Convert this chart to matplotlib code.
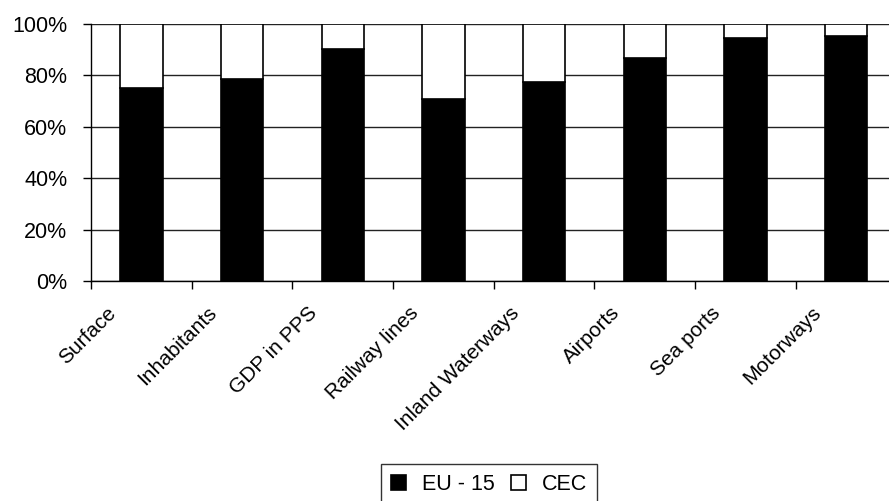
import matplotlib.pyplot as plt
import matplotlib.transforms as mtransforms
import numpy as np

plt.rcParams['font.family'] = ['Liberation Sans', 'DejaVu Sans']

categories = ["Surface", "Inhabitants", "GDP in PPS", "Railway lines",
              "Inland Waterways", "Airports", "Sea ports", "Motorways"]
eu15 = [75.0, 78.6, 90.0, 70.6, 77.2, 86.8, 94.3, 95.1]
cec = [100 - v for v in eu15]

fig = plt.figure(figsize=(8.89, 5.01), dpi=100)
ax = fig.add_axes([0.1024, 0.4391, 0.906, 0.5136])

x = np.arange(len(categories))
w = 0.42
ax.bar(x, eu15, w, color="black", edgecolor="black", linewidth=1.2, label="EU - 15", zorder=3)
ax.bar(x, cec, w, bottom=eu15, color="white", edgecolor="black", linewidth=1.2, label="CEC", zorder=3)

ax.set_xlim(-0.5, len(categories) - 0.5)
ax.set_ylim(0, 100)
ax.set_yticks(np.arange(0, 101, 20))
ax.set_yticklabels([f"{v}%" for v in range(0, 101, 20)], fontsize=15.5)
ax.yaxis.grid(True, color="#222222", linewidth=1.0, zorder=0)
ax.set_axisbelow(True)

# category dividers as ticks, labels drawn separately
ax.set_xticks(np.arange(-0.5, len(categories) + 0.5, 1))
ax.set_xticklabels([])
ax.tick_params(axis="x", direction="out", length=6, width=1, color="black")
ax.tick_params(axis="y", direction="out", length=6, width=1, pad=11, color="black")

for s in ["top", "right"]:
    ax.spines[s].set_visible(False)
for s in ["left", "bottom"]:
    ax.spines[s].set_color("black")
    ax.spines[s].set_linewidth(1.0)

offset = mtransforms.ScaledTranslation(-28 / 100, -29 / 100, fig.dpi_scale_trans)
trans = mtransforms.blended_transform_factory(ax.transData, ax.transAxes) + offset
for i, name in enumerate(categories):
    ax.text(i, 0, name, transform=trans, rotation=45, rotation_mode="anchor",
            ha="right", va="center", fontsize=15)

leg = fig.legend(loc="upper center", bbox_to_anchor=(489 / 889, 1 - 464 / 501), ncol=2,
                 fontsize=15.5, frameon=True, fancybox=False, edgecolor="black",
                 handlelength=0.7, handleheight=0.7, handletextpad=0.75, columnspacing=0.75,
                 borderpad=0.45, borderaxespad=0)
leg.get_frame().set_linewidth(1.0)

fig.savefig("out.png", dpi=100)
